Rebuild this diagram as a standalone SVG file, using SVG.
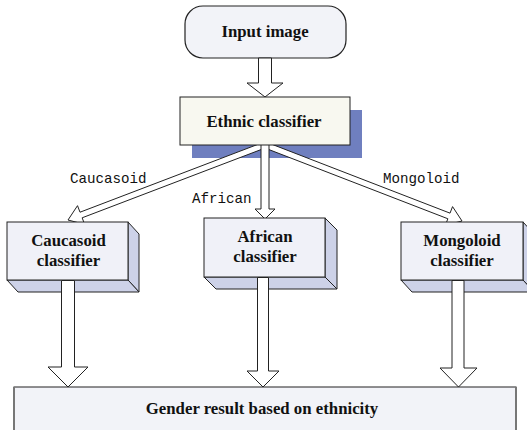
<svg xmlns="http://www.w3.org/2000/svg" width="527" height="430" viewBox="0 0 527 430">
<style>
.t{font-family:"Liberation Serif","Times New Roman",serif;font-weight:bold;font-size:16.8px;fill:#111;text-anchor:middle}
.lbl{font-family:"Liberation Mono","Courier New",monospace;font-size:14.2px;fill:#111}
.arr{fill:#fff;stroke:#222;stroke-width:1}
.front{fill:#f0f1f8;stroke:#222;stroke-width:1}
.side{fill:#cdd2e8;stroke:#222;stroke-width:1}
</style>
<rect width="527" height="430" fill="#fff"/>
<g id="input-image">
<rect x="185" y="6" width="161" height="52" rx="18" ry="18" fill="#f2f3f8" stroke="#222" stroke-width="1.2"/>
<text class="t" x="265" y="37">Input image</text>
</g>
<g id="ethnic-shadow">
<rect x="192" y="110" width="170" height="48" fill="#6f7fbf"/>
</g>
<g id="connectors">
<polygon class="arr" points="258.5,58 271.5,58 271.5,83 283,83 265,97 247,83 258.5,83"/>
<polygon class="arr" points="263.07,148.8 82.15,217.81 84.65,224.36 68,220 77.52,205.66 80.01,212.21 260.93,143.2"/>
<polygon class="arr" points="266.92,148.8 447.86,218.75 445.33,225.28 462,221 452.55,206.62 450.02,213.15 269.08,143.2"/>
<polygon class="arr" points="261,140 269,140 269,209 275,209 265,219 255,209 261,209"/>
</g>
<g id="ethnic-classifier">
<rect x="180" y="97" width="170" height="48" fill="#f8f8f0" stroke="#222" stroke-width="1"/>
<text class="t" x="264" y="127">Ethnic classifier</text>
</g>
<g id="caucasoid-classifier">
<polygon class="side" points="128,222 139,234 139,292 128,280"/>
<polygon class="side" points="7,280 128,280 139,292 18,292"/>
<rect class="front" x="7" y="222" width="121" height="58"/>
<text class="t" x="68.5" y="246">Caucasoid</text>
<text class="t" x="68.5" y="266">classifier</text>
</g>
<g id="african-classifier">
<polygon class="side" points="325,218 337,230 337,289 325,277"/>
<polygon class="side" points="204,277 325,277 337,289 216,289"/>
<rect class="front" x="204" y="218" width="121" height="59"/>
<text class="t" x="265" y="242">African</text>
<text class="t" x="265" y="262">classifier</text>
</g>
<g id="mongoloid-classifier">
<polygon class="side" points="523,222 534,234 534,292 523,280"/>
<polygon class="side" points="401,280 523,280 534,292 412,292"/>
<rect class="front" x="401" y="222" width="122" height="58"/>
<text class="t" x="462" y="246">Mongoloid</text>
<text class="t" x="462" y="266">classifier</text>
</g>
<g id="connectors-bottom">
<polygon class="arr" points="61.5,280.5 74.5,280.5 74.5,367 88,367 68,387 48,367 61.5,367"/>
<polygon class="arr" points="257.5,277.5 268.5,277.5 268.5,371 279,371 263,387 247,371 257.5,371"/>
<polygon class="arr" points="452,280.5 464,280.5 464,368 477,368 458.5,387 440,368 452,368"/>
</g>
<g id="labels">
<text class="lbl" x="70" y="183">Caucasoid</text>
<text class="lbl" x="192" y="203">African</text>
<text class="lbl" x="383" y="183">Mongoloid</text>
</g>
<g id="gender-result">
<rect x="14" y="387" width="502" height="50" fill="#f2f3f8" stroke="#222" stroke-width="1"/>
<line x1="14" y1="387" x2="14" y2="430" stroke="#777" stroke-width="2"/>
<line x1="516" y1="387" x2="516" y2="430" stroke="#777" stroke-width="2"/>
<text class="t" x="262" y="414">Gender result based on ethnicity</text>
</g>
</svg>
